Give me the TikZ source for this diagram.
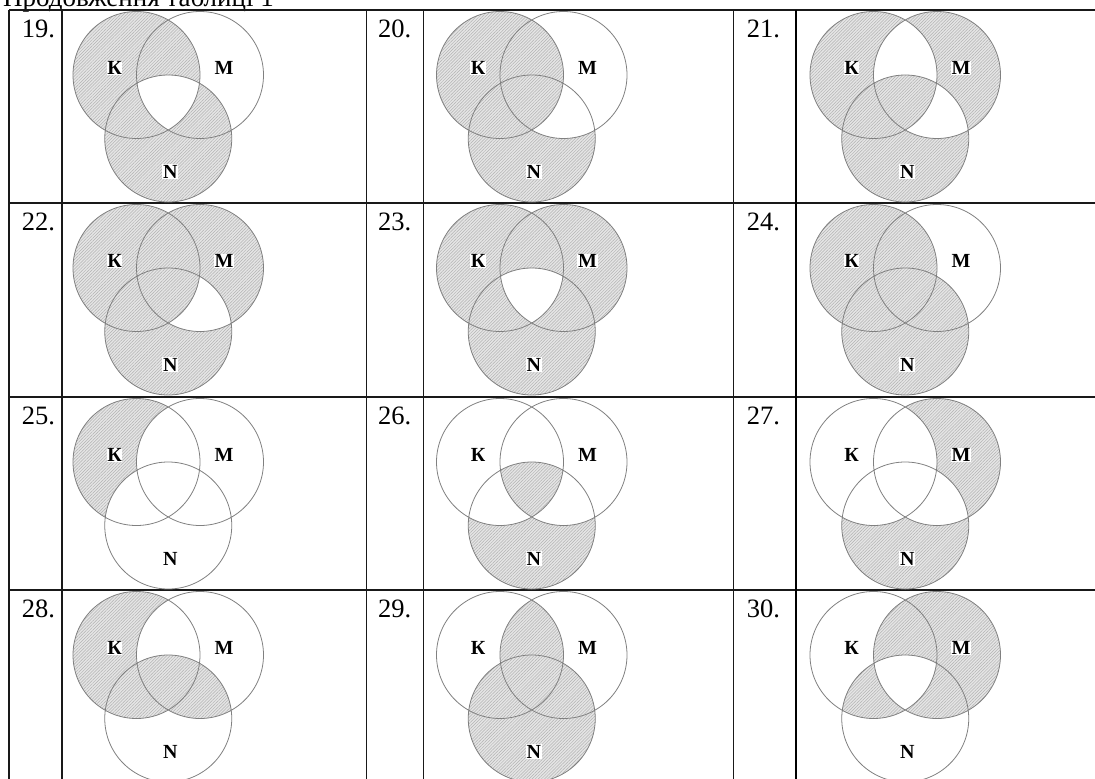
\documentclass[tikz,border=0pt]{standalone}
\usepackage{fontspec}
\setmainfont{Liberation Serif}
\usetikzlibrary{patterns.meta}
\tikzset{
  basefill/.style={fill=black!10},
  hatchfill/.style={pattern={Lines[angle=45,distance=2.2pt,line width=0.5pt]},pattern color=black!30},
  vcirc/.style={draw=black!50,line width=0.8pt},
  vlab/.style={fill=white,inner sep=0.6pt,font=\fontsize{20}{20}\selectfont\bfseries},
  numlab/.style={anchor=base west,inner sep=0pt,font=\fontsize{26.5}{26.5}\selectfont},
  gridline/.style={line width=1.3pt,draw=black!90},
  gridthick/.style={line width=1.8pt,draw=black},
}
\newcommand\vreg[5]{%
  \begin{scope}[even odd rule]
    \ifnum#3=1 \clip (#1,#2) circle[radius=63.5pt];
    \else \clip (#1-90,#2-90) rectangle (#1+160,#2+170) (#1,#2) circle[radius=63.5pt]; \fi
    \ifnum#4=1 \clip (#1+63.5,#2) circle[radius=63.5pt];
    \else \clip (#1-90,#2-90) rectangle (#1+160,#2+170) (#1+63.5,#2) circle[radius=63.5pt]; \fi
    \ifnum#5=1 \clip (#1+31.75,#2+63.5) circle[radius=63.5pt];
    \else \clip (#1-90,#2-90) rectangle (#1+160,#2+170) (#1+31.75,#2+63.5) circle[radius=63.5pt]; \fi
    \fill[basefill] (#1-90,#2-90) rectangle (#1+160,#2+170);
    \fill[hatchfill] (#1-90,#2-90) rectangle (#1+160,#2+170);
  \end{scope}}
\newcommand\venn[4]{%
  \foreach \a/\b/\c in {#3}{\vreg{#1}{#2}{\a}{\b}{\c}}
  \draw[vcirc] (#1,#2) circle[radius=63.5pt] (#1+63.5,#2) circle[radius=63.5pt] (#1+31.75,#2+63.5) circle[radius=63.5pt];
  \node[vlab] (K#4) at (#1-22,#2-7) {К};
  \node[vlab] (M#4) at (#1+63.5+24,#2-7) {M};
  \node[vlab] (N#4) at (#1+31.75+2,#2+63.5+33) {N};
}
\begin{document}
\begin{tikzpicture}[x=1pt,y=-1pt]
\useasboundingbox (0,0) rectangle (1095,779);
\clip (0,0) rectangle (1095,779);
\node[numlab,font=\fontsize{27}{27}\selectfont] (hdr) at (3,6) {Продовження таблиці 1};
% grid
\foreach \yy in {10,203,397,590} \draw[gridline] (9,\yy) -- (1100,\yy);
\foreach \xx in {9,62,366.7,423.3,733.3} \draw[gridline] (\xx,10) -- (\xx,790);
\draw[gridthick] (796,10) -- (796,790);
% numbers
\node[numlab] (n19) at (21.7,37.3) {19.};
\node[numlab] (n20) at (378,37.3) {20.};
\node[numlab] (n21) at (746.7,37.3) {21.};
\node[numlab] (n22) at (21.7,230.3) {22.};
\node[numlab] (n23) at (378,230.3) {23.};
\node[numlab] (n24) at (746.7,230.3) {24.};
\node[numlab] (n25) at (21.7,424.3) {25.};
\node[numlab] (n26) at (378,424.3) {26.};
\node[numlab] (n27) at (746.7,424.3) {27.};
\node[numlab] (n28) at (21.7,617.3) {28.};
\node[numlab] (n29) at (378,617.3) {29.};
\node[numlab] (n30) at (746.7,617.3) {30.};
% diagrams
\venn{136.5}{75}{1/0/0,0/0/1,1/1/0,1/0/1,0/1/1}{19}
\venn{500}{75}{1/0/0,1/1/0,1/0/1,1/1/1,0/0/1}{20}
\venn{873.5}{75}{1/0/0,0/1/0,0/0/1,1/0/1,1/1/1}{21}
\venn{136.5}{268}{1/0/0,0/1/0,0/0/1,1/1/0,1/0/1,1/1/1}{22}
\venn{500}{268}{1/0/0,0/1/0,0/0/1,1/1/0,1/0/1,0/1/1}{23}
\venn{873.5}{268}{1/0/0,1/1/0,1/0/1,1/1/1,0/0/1,0/1/1}{24}
\venn{136.5}{462}{1/0/0}{25}
\venn{500}{462}{1/1/1,0/0/1}{26}
\venn{873.5}{462}{0/1/0,0/0/1}{27}
\venn{136.5}{655}{1/0/0,1/0/1,1/1/1,0/1/1}{28}
\venn{500}{655}{1/1/0,1/1/1,1/0/1,0/1/1,0/0/1}{29}
\venn{873.5}{655}{0/1/0,1/1/0,1/0/1,0/1/1}{30}
\end{tikzpicture}
\end{document}
